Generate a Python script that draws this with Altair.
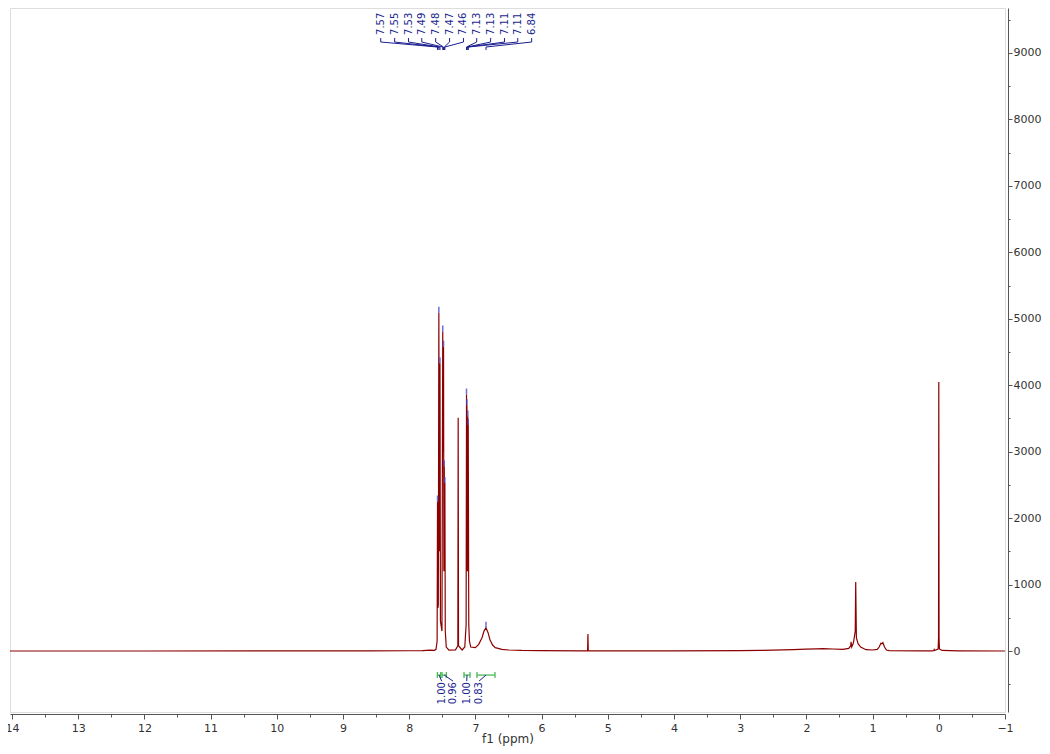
import altair as alt
import pandas as pd

# ---------------- spectrum ----------------
ppm = [14.03, 12.0, 10.0, 8.6, 8.0, 7.80, 7.68, 7.62, 7.595,
       7.578, 7.572, 7.566, 7.560, 7.552, 7.546, 7.535, 7.528,
       7.505, 7.493, 7.487, 7.481, 7.476, 7.470, 7.465, 7.461, 7.455,
       7.44, 7.40, 7.30, 7.265, 7.260, 7.255, 7.20, 7.16,
       7.140, 7.134, 7.131, 7.128, 7.121, 7.114, 7.111, 7.108, 7.100, 7.09, 7.07,
       7.00, 6.95, 6.90, 6.87, 6.84, 6.81, 6.78, 6.74, 6.70, 6.60, 6.50, 6.30, 6.00,
       5.40, 5.305, 5.300, 5.295, 5.20, 4.00, 3.00, 2.70, 2.50, 2.20, 2.00, 1.85,
       1.75, 1.60, 1.45, 1.36, 1.330, 1.325, 1.315, 1.29, 1.262, 1.255, 1.245,
       1.22, 1.18, 1.10, 1.00, 0.93, 0.90, 0.875, 0.86, 0.845, 0.82, 0.79, 0.75,
       0.30, 0.10, 0.075, 0.07, 0.065, 0.01, 0.004, 0.000, -0.004, -0.01, -0.05, -0.3, -1.0]
intensity = [0, 0, 2, 3, 4, 6, 12, 10, 25,
             150, 2250, 650, 700, 5090, 1500, 4330, 450,
             300, 4810, 3000, 4580, 1200, 2780, 1500, 2530, 300,
             60, 12, 18, 80, 3510, 80, 15, 60,
             400, 3860, 1800, 3700, 1200, 3530, 1700, 3400, 400, 150, 60,
             50, 100, 200, 300, 350, 280, 170, 90, 50, 25, 15, 8, 5,
             3, 5, 255, 5, 3, 3, 5, 10, 12, 20, 28, 32,
             35, 30, 25, 40, 80, 140, 60, 120, 300, 1040, 200,
             110, 60, 20, 15, 25, 60, 115, 110, 125, 60, 15, 5,
             3, 3, 8, 20, 8, 30, 200, 4050, 200, 30, 8, 2, 0]

# ---------------- peak picking labels ----------------
peak_labels = ["7.57", "7.55", "7.53", "7.49", "7.48", "7.47", "7.46",
               "7.13", "7.13", "7.11", "7.11", "6.84"]
peak_pos = [7.572, 7.552, 7.535, 7.493, 7.481, 7.470, 7.461,
            7.134, 7.128, 7.114, 7.108, 6.840]
peak_height = [2250, 5090, 4330, 4810, 4580, 2780, 2530,
               3860, 3700, 3530, 3400, 350]
label_anchor = [8.43, 8.22, 8.01, 7.81, 7.60, 7.39, 7.18,
                6.98, 6.77, 6.56, 6.36, 6.15]

# ---------------- integrals ----------------
integ_values = ["1.00", "0.96", "1.00", "0.83"]
integ_from = [7.575, 7.504, 7.172, 6.976]
integ_to = [7.524, 7.439, 7.081, 6.704]
integ_label_x = [7.509, 7.338, 7.131, 6.945]

# annotation levels (intensity units)
TXT_TOP_Y = 9271
CONN_Y = [9225, 9165, 9090, 9045]
BRACKET_Y = -362
CAP = 45
INTEG_CONN_END = -453
INTEG_TXT_Y = -468

X_DOMAIN = [-1, 14.03]
Y_DOMAIN = [-918, 9677]

NAVY = "#1c1f8f"
RED = "#8b0000"
GREEN = "#3cb44b"
FONT = "DejaVu Sans"

spec_df = pd.DataFrame({"ppm": ppm, "intensity": intensity})

xs = alt.Scale(domain=X_DOMAIN, reverse=True, nice=False, zero=False)
ys = alt.Scale(domain=Y_DOMAIN, nice=False, zero=False)

# main spectrum with major axes
spectrum = alt.Chart(spec_df).mark_line(color=RED, strokeWidth=1.2, clip=True).encode(
    x=alt.X("ppm:Q", scale=xs, sort=None,
            axis=alt.Axis(orient="bottom", values=list(range(-1, 15)), format="d",
                          tickSize=5, labelFontSize=11, title="f1 (ppm)",
                          titleFontSize=12, titleFontWeight="normal", grid=False,
                          offset=2, labelFlush=False, domainColor="#555",
                          tickColor="#555", labelColor="#333", titleColor="#333",
                          titlePadding=0, labelPadding=3, labelFont=FONT,
                          titleFont=FONT)),
    y=alt.Y("intensity:Q", scale=ys,
            axis=alt.Axis(orient="right", values=list(range(0, 10000, 1000)),
                          format="d", tickSize=4, offset=3, grid=False, title=None,
                          labelFontSize=11, labelPadding=1, domainColor="#555",
                          tickColor="#555", labelColor="#333", labelFont=FONT)),
    order=alt.Order("idx:Q"),
).transform_window(idx="row_number()")

# minor ticks
minor_df = pd.DataFrame({"ppm": [0.0], "intensity": [0.0]})
minor = alt.Chart(minor_df).mark_point(opacity=0).encode(
    x=alt.X("ppm:Q", scale=xs,
            axis=alt.Axis(orient="bottom", values=[v + 0.5 for v in range(-1, 14)],
                          tickSize=3, labels=False, domain=False, title=None,
                          grid=False, offset=2, tickColor="#555")),
    y=alt.Y("intensity:Q", scale=ys,
            axis=alt.Axis(orient="right", values=list(range(-500, 10000, 1000)),
                          tickSize=2, labels=False, domain=False, title=None,
                          grid=False, offset=3, tickColor="#555")),
)

# peak markers
pk_df = pd.DataFrame({"label": peak_labels, "pos": peak_pos, "h": peak_height,
                      "anchor": label_anchor})
pk_df["h2"] = pk_df["h"] + 90
markers = alt.Chart(pk_df).mark_rule(color="#4a4ad0", opacity=0.8, strokeWidth=1.5).encode(
    x=alt.X("pos:Q", scale=xs, axis=None),
    y=alt.Y("h:Q", scale=ys, axis=None),
    y2="h2:Q",
)

peak_text = alt.Chart(pk_df).mark_text(
    angle=270, align="left", baseline="middle", fontSize=10, color=NAVY, font=FONT
).encode(
    x=alt.X("anchor:Q", scale=xs, axis=None),
    y=alt.Y("ty:Q", scale=ys, axis=None),
    text="label:N",
).transform_calculate(ty=str(TXT_TOP_Y))

conn_rows = []
for i, (a, p) in enumerate(zip(label_anchor, peak_pos)):
    pts = [(a, CONN_Y[0]), (a, CONN_Y[1]), (p, CONN_Y[2]), (p, CONN_Y[3])]
    for k, (xv, yv) in enumerate(pts):
        conn_rows.append({"g": i, "k": k, "x": xv, "y": yv})
conn_df = pd.DataFrame(conn_rows)
connectors = alt.Chart(conn_df).mark_line(color=NAVY, strokeWidth=1).encode(
    x=alt.X("x:Q", scale=xs, axis=None),
    y=alt.Y("y:Q", scale=ys, axis=None),
    detail="g:N",
    order="k:Q",
)

# integrals
int_df = pd.DataFrame({"v": integ_values, "a": integ_from, "b": integ_to,
                       "lx": integ_label_x})
int_df["mid"] = (int_df["a"] + int_df["b"]) / 2
int_df["by"] = BRACKET_Y
int_df["c1"] = BRACKET_Y + CAP
int_df["c2"] = BRACKET_Y - CAP
brackets = alt.Chart(int_df).mark_rule(color=GREEN, strokeWidth=1.2).encode(
    x=alt.X("a:Q", scale=xs, axis=None), x2="b:Q",
    y=alt.Y("by:Q", scale=ys, axis=None),
)
caps_a = alt.Chart(int_df).mark_rule(color=GREEN, strokeWidth=1.2).encode(
    x=alt.X("a:Q", scale=xs, axis=None),
    y=alt.Y("c1:Q", scale=ys, axis=None), y2="c2:Q",
)
caps_b = alt.Chart(int_df).mark_rule(color=GREEN, strokeWidth=1.2).encode(
    x=alt.X("b:Q", scale=xs, axis=None),
    y=alt.Y("c1:Q", scale=ys, axis=None), y2="c2:Q",
)
int_conn_rows = []
for i, (m, lx) in enumerate(zip(int_df["mid"], integ_label_x)):
    int_conn_rows.append({"g": i, "k": 0, "x": m, "y": BRACKET_Y})
    int_conn_rows.append({"g": i, "k": 1, "x": lx, "y": INTEG_CONN_END})
int_conn = alt.Chart(pd.DataFrame(int_conn_rows)).mark_line(color=NAVY, strokeWidth=1).encode(
    x=alt.X("x:Q", scale=xs, axis=None),
    y=alt.Y("y:Q", scale=ys, axis=None),
    detail="g:N", order="k:Q",
)
int_text = alt.Chart(int_df).mark_text(
    angle=270, align="right", baseline="middle", fontSize=10, color=NAVY, font=FONT
).encode(
    x=alt.X("lx:Q", scale=xs, axis=None),
    y=alt.Y("ty:Q", scale=ys, axis=None),
    text="v:N",
).transform_calculate(ty=str(INTEG_TXT_Y))

chart = alt.layer(
    spectrum, minor, markers, connectors, peak_text,
    brackets, caps_a, caps_b, int_conn, int_text
).resolve_axis(x="independent", y="independent").properties(
    width=995, height=704,
    autosize=alt.AutoSizeParams(type="none"),
    padding={"left": 2, "top": 0, "right": 37, "bottom": 34},
).configure_view(stroke="#d0d0d0", strokeWidth=1).configure(font=FONT)

chart.save("out.html", embed_options={"renderer": "svg", "actions": False})
